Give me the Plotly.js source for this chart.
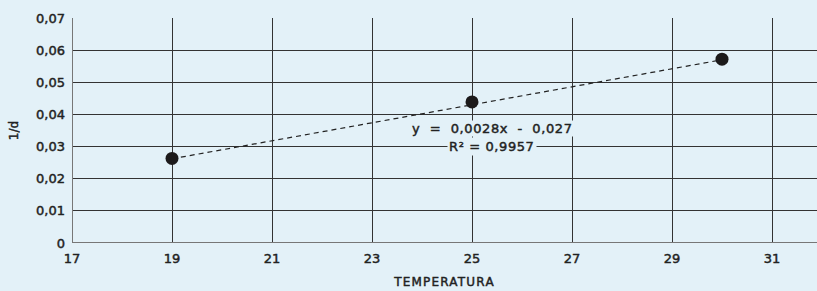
<!DOCTYPE html>
<html>
<head>
<meta charset="utf-8">
<script src="https://cdn.plot.ly/plotly-3.0.1.min.js"></script>
<style>
html,body{margin:0;padding:0;background:#e3f1f8;}
#chart{width:817px;height:291px;}
.xtitle{letter-spacing:1.2px;}
.annotation-text{letter-spacing:0.6px;}
.main-svg text{stroke:#222;stroke-width:0.45px;}
</style>
</head>
<body>
<div id="chart"></div>
<script>
const temperatura = [19, 25, 30];
const inversoD = [0.0263, 0.0439, 0.0572];
const trendSlope = 0.0028;
const trendIntercept = -0.027;
const eqText = 'y  =  0,0028x  -  0,027';
const r2Text = 'R² = 0,9957';
const xTicks = [17, 19, 21, 23, 25, 27, 29, 31];
const yTicks = [0, 0.01, 0.02, 0.03, 0.04, 0.05, 0.06, 0.07];
const yTickLabels = ['0', '0,01', '0,02', '0,03', '0,04', '0,05', '0,06', '0,07'];

const trendX = [temperatura[0], temperatura[temperatura.length - 1]];
const trendY = trendX.map(x => trendSlope * x + trendIntercept);

const fam = '"DejaVu Sans", sans-serif';
const ink = '#222';
const bg = '#e3f1f8';

const data = [
  {x: trendX, y: trendY, mode: 'lines', line: {color: ink, width: 1.2, dash: '5px,4px'}, hoverinfo: 'skip'},
  {x: temperatura, y: inversoD, mode: 'markers', marker: {size: 13, color: '#1c1a1b'}}
];

const layout = {
  width: 817, height: 291,
  margin: {l: 72, r: 0, t: 18, b: 48},
  paper_bgcolor: bg, plot_bgcolor: bg,
  showlegend: false,
  font: {family: fam, size: 13, color: ink},
  xaxis: {
    range: [17, 31.9], tickvals: xTicks, ticktext: xTicks.map(String),
    showgrid: true, gridcolor: '#333', gridwidth: 1,
    zeroline: false, showline: false, ticks: '', ticklabelstandoff: 6,
    tickfont: {family: fam, size: 13, color: ink},
    title: {text: 'TEMPERATURA', font: {family: fam, size: 12, color: ink}, standoff: 12}
  },
  yaxis: {
    range: [0, 0.07], tickvals: yTicks, ticktext: yTickLabels,
    showgrid: true, gridcolor: '#333', gridwidth: 1,
    zeroline: false, showline: false, ticks: '', ticklabelstandoff: 6,
    tickfont: {family: fam, size: 13, color: ink},
    title: {text: '1/d', font: {family: fam, size: 12, color: ink}, standoff: 14}
  },
  shapes: [
    {type: 'line', xref: 'x', yref: 'paper', x0: 17, x1: 17, y0: 0, y1: 1, line: {color: '#777', width: 2}},
    {type: 'line', xref: 'paper', yref: 'y', x0: 0, x1: 1, y0: 0, y1: 0, line: {color: '#777', width: 2}}
  ],
  annotations: [
    {x: 25.4, y: 0.0355, xref: 'x', yref: 'y', text: eqText, showarrow: false, bgcolor: bg, borderpad: 0,
     font: {family: fam, size: 13, color: ink}},
    {x: 25.4, y: 0.0299, xref: 'x', yref: 'y', text: r2Text, showarrow: false, bgcolor: bg, borderpad: 1,
     font: {family: fam, size: 13, color: ink}}
  ]
};

Plotly.newPlot('chart', data, layout, {displayModeBar: false, staticPlot: true});
</script>
</body>
</html>
